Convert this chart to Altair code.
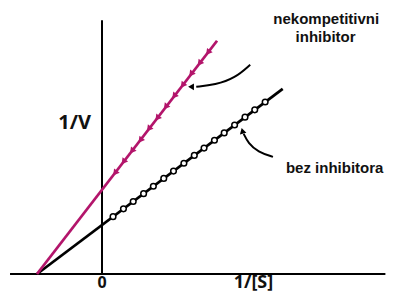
import altair as alt
import pandas as pd

# --- data ---
line_names = ["bez", "bez", "nek", "nek"]
line_x = [-1.0, 2.78, -1.0, 1.77]
line_y = [0.0, 3.78, 0.0, 4.76]

circle_x = [0.17, 0.33, 0.48, 0.64, 0.79, 0.95, 1.10, 1.26, 1.42, 1.57, 1.73, 1.88, 2.04, 2.20, 2.35, 2.51]
circle_y = [1.17, 1.33, 1.48, 1.64, 1.79, 1.95, 2.10, 2.26, 2.42, 2.57, 2.73, 2.88, 3.04, 3.20, 3.35, 3.51]

tri_x = [0.20, 0.33, 0.46, 0.59, 0.72, 0.85, 0.98, 1.11, 1.24, 1.37, 1.50, 1.63]
tri_y = [2.06, 2.29, 2.51, 2.73, 2.96, 3.18, 3.41, 3.63, 3.85, 4.08, 4.30, 4.52]

arrow_name = ["a1", "a1", "a1", "a1", "a2", "a2", "a2", "a2"]
arrow_i = [0, 1, 2, 3, 0, 1, 2, 3]
arrow_x = [2.28, 2.05, 1.74, 1.45, 2.63, 2.40, 2.25, 2.18]
arrow_y = [4.27, 4.00, 3.86, 3.82, 2.39, 2.49, 2.67, 2.86]

head_x = [1.37, 2.16]
head_y = [3.82, 2.92]
head_shape = ["triangle-left", "triangle-up"]
head_angle = [0, 345]

label_text = ["nekompetitivni", "inhibitor", "bez inhibitora"]
label_x = [3.45, 3.44, 3.58]
label_y = [5.20, 4.83, 2.16]

axis_text = ["1/V", "0", "1/[S]"]
axis_tx = [-0.42, 0.0, 2.33]
axis_ty = [3.08, -0.19, -0.19]
axis_size = [20, 16, 18]

MAG = "#b3156b"

W, H = 378, 286
xs = alt.Scale(domain=[-94 / 65, (W - 94) / 65], nice=False, zero=False)
ys = alt.Scale(domain=[(266 - H) / 49, 266 / 49], nice=False, zero=False)
X = lambda f="x": alt.X(f, type="quantitative", scale=xs, axis=None)
Y = lambda f="y": alt.Y(f, type="quantitative", scale=ys, axis=None)

axes = pd.DataFrame({"x": [-1.415, 0.0], "x2": [4.36, 0.0], "y": [0.0, 0.0], "y2": [0.0, 5.18]})
axis_rules = alt.Chart(axes).mark_rule(color="black", strokeWidth=2).encode(
    x=X(), x2="x2", y=Y(), y2="y2")

lines_df = pd.DataFrame({"s": line_names, "x": line_x, "y": line_y})
lines = alt.Chart(lines_df).mark_line(strokeWidth=2.8).encode(
    x=X(), y=Y(), detail="s",
    color=alt.Color("s:N", scale=alt.Scale(domain=["bez", "nek"], range=["black", MAG]), legend=None))

circ = alt.Chart(pd.DataFrame({"x": circle_x, "y": circle_y})).mark_point(
    shape="circle", filled=True, fill="white", stroke="black", strokeWidth=1.5, size=32, opacity=1
).encode(x=X(), y=Y())

tri = alt.Chart(pd.DataFrame({"x": tri_x, "y": tri_y})).mark_point(
    shape="triangle-down", filled=True, color=MAG, size=50, angle=38, opacity=1
).encode(x=X(), y=Y())

arrows = alt.Chart(pd.DataFrame({"a": arrow_name, "i": arrow_i, "x": arrow_x, "y": arrow_y})).mark_line(
    color="black", strokeWidth=2, interpolate="basis").encode(x=X(), y=Y(), detail="a", order="i")

heads = alt.Chart(pd.DataFrame({"x": head_x, "y": head_y, "shape": head_shape, "angle": head_angle})).mark_point(
    filled=True, color="black", size=45, opacity=1).encode(
    x=X(), y=Y(),
    shape=alt.Shape("shape:N", scale=None),
    angle=alt.Angle("angle:Q", scale=None))

labels = alt.Chart(pd.DataFrame({"t": label_text, "x": label_x, "y": label_y})).mark_text(
    font="Liberation Sans", fontWeight="bold", fontSize=15, color="#111", align="center", baseline="middle"
).encode(x=X(), y=Y(), text="t")

axlab = alt.Chart(pd.DataFrame({"t": axis_text, "x": axis_tx, "y": axis_ty, "s": axis_size})).mark_text(
    font="Open Sans", fontWeight="bold", color="#111", align="center", baseline="middle"
).encode(x=X(), y=Y(), text="t", size=alt.Size("s:Q", scale=None))

chart = alt.layer(axis_rules, lines, circ, tri, arrows, heads, labels, axlab).properties(
    width=W, height=H, padding=0, autosize=alt.AutoSizeParams(type="none")
).configure_view(stroke=None)

chart.save("out.html", embed_options={"renderer": "svg", "actions": False})
